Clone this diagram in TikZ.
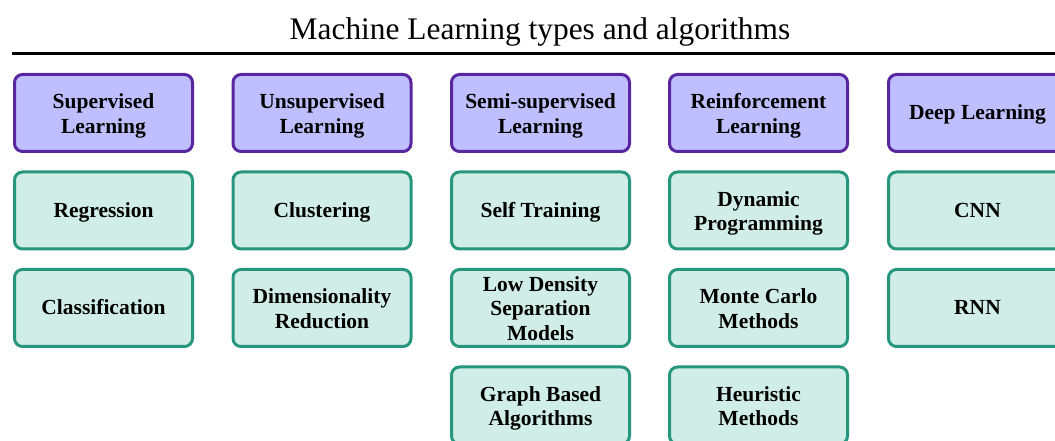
\documentclass[tikz,border=0pt]{standalone}
\usepackage{fontspec}
\setmainfont{Liberation Serif}
\definecolor{hdrfill}{RGB}{191,191,255}
\definecolor{hdrdraw}{RGB}{88,38,158}
\definecolor{algfill}{RGB}{208,237,231}
\definecolor{algdraw}{RGB}{38,150,124}
\newcommand{\toplinestrut}{\rule{0pt}{21pt}}
\tikzset{
  box/.style={rounded corners=8pt, line width=3pt, minimum width=178pt, minimum height=77pt,
    align=center, inner sep=0pt, font=\bfseries\fontsize{21.5}{24.5}\selectfont,
    execute at begin node={\rule{0pt}{19pt}},
    execute at end node={\rule[-5pt]{0pt}{5pt}}},
  hdr/.style={box, draw=hdrdraw, fill=hdrfill},
  alg/.style={box, draw=algdraw, fill=algfill},
}
\begin{document}
\begin{tikzpicture}[x=1pt,y=1pt]
\useasboundingbox (0,0) rectangle (1055,441);
\clip (0,0) rectangle (1055,441);
\node (title) at (540,409) {\fontsize{31.4}{36}\selectfont Machine Learning types and algorithms};
\coordinate (ruleL) at (12,387.5);
\coordinate (ruleR) at (1060,387.5);
\draw[line width=3pt] (ruleL) -- (ruleR);
% row 1 headers
\node[hdr] (h1) at (103.5,328) {\toplinestrut Supervised\\Learning};
\node[hdr] (h2) at (322,328) {\toplinestrut Unsupervised\\Learning};
\node[hdr] (h3) at (540.5,328) {\toplinestrut Semi-supervised\\Learning};
\node[hdr] (h4) at (758.5,328) {\toplinestrut Reinforcement\\Learning};
\node[hdr] (h5) at (977.5,328) {Deep Learning};
% row 2
\node[alg] (a1) at (103.5,230.5) {Regression};
\node[alg] (a2) at (322,230.5) {Clustering};
\node[alg] (a3) at (540.5,230.5) {Self Training};
\node[alg] (a4) at (758.5,230.5) {\toplinestrut Dynamic\\Programming};
\node[alg] (a5) at (977.5,230.5) {CNN};
% row 3
\node[alg] (b1) at (103.5,133) {Classification};
\node[alg] (b2) at (322,133) {\toplinestrut Dimensionality\\Reduction};
\node[alg] (b3) at (540.5,133) {\toplinestrut Low Density\\Separation\\Models};
\node[alg] (b4) at (758.5,133) {\toplinestrut Monte Carlo\\Methods};
\node[alg] (b5) at (977.5,133) {RNN};
% row 4
\node[alg] (c3) at (540.5,35.5) {\toplinestrut Graph Based\\Algorithms};
\node[alg] (c4) at (758.5,35.5) {\toplinestrut Heuristic\\Methods};
\end{tikzpicture}
\end{document}
